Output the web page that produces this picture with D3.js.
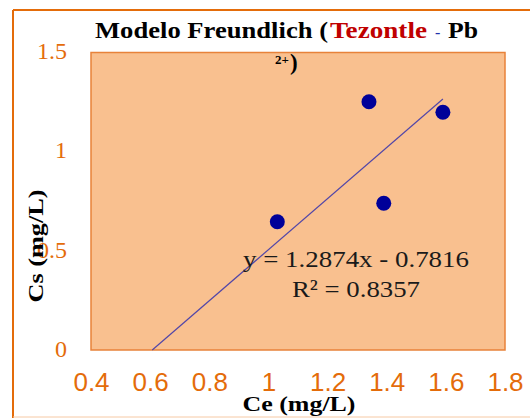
<!DOCTYPE html>
<html><head><meta charset="utf-8">
<script src="https://cdn.jsdelivr.net/npm/d3@7"></script>
<style>
html,body{margin:0;padding:0;background:#fff;}
svg{display:block;}
</style></head>
<body>
<svg id="chart" width="530" height="418"></svg>
<script>
const ceValues = [1.03, 1.34, 1.59, 1.39];
const csValues = [0.647, 1.252, 1.199, 0.740];
const xTicks = [0.4, 0.6, 0.8, 1, 1.2, 1.4, 1.6, 1.8];
const yTicks = [0, 0.5, 1, 1.5];
const slope = 1.2874, intercept = -0.7816;
const eqText = "y = 1.2874x - 0.7816";
const r2Text = "R\u00B2 = 0.8357";

const svg = d3.select("#chart");
const orange = "#E46C0A";
const serif = "'Liberation Serif','Times New Roman',serif";
const sans = "'Liberation Sans',Arial,sans-serif";

// outer frame
svg.append("line").attr("x1",13).attr("x2",530).attr("y1",10).attr("y2",10).attr("stroke",orange).attr("stroke-width",2);
svg.append("line").attr("x1",13).attr("x2",13).attr("y1",10).attr("y2",418).attr("stroke",orange).attr("stroke-width",2);
svg.append("line").attr("x1",13).attr("x2",530).attr("y1",417).attr("y2",417).attr("stroke","#F6C9A4").attr("stroke-width",1);

const L=91, R=505, T=52.5, B=350;
const x = d3.scaleLinear().domain([0.4,1.8]).range([L,R]);
const y = d3.scaleLinear().domain([0,1.5]).range([B,T]);

svg.append("rect").attr("x",L).attr("y",T).attr("width",R-L).attr("height",B-T)
  .attr("fill","#F9C08F").attr("stroke","#E8823A").attr("stroke-width",1.5);

// axes
const xAxis = svg.append("g").attr("transform",`translate(0,${B})`)
  .call(d3.axisBottom(x).tickValues(xTicks).tickSize(0).tickPadding(23).tickFormat(d3.format("")));
xAxis.select(".domain").remove();
xAxis.selectAll("text").attr("font-family",sans).attr("font-size",26).attr("fill",orange);

const yAxis = svg.append("g").attr("transform",`translate(${L},0)`)
  .call(d3.axisLeft(y).tickValues(yTicks).tickSize(0).tickPadding(24).tickFormat(d3.format("")));
yAxis.select(".domain").remove();
yAxis.selectAll("text").attr("font-family",serif).attr("font-size",24).attr("fill",orange).attr("dy","0.26em");

// trendline
const x0 = -intercept/slope, x1 = d3.max(ceValues);
svg.append("line")
  .attr("x1",x(x0)).attr("y1",y(slope*x0+intercept))
  .attr("x2",x(x1)).attr("y2",y(slope*x1+intercept))
  .attr("stroke","#5246A8").attr("stroke-width",1.2);

// points
svg.selectAll("circle.pt").data(ceValues).join("circle").attr("class","pt")
  .attr("cx",(d)=>x(d)).attr("cy",(d,i)=>y(csValues[i])).attr("r",7.5).attr("fill","#000099");

const fit = "spacingAndGlyphs";
// equation
svg.append("text").attr("x",356).attr("y",266.5).attr("text-anchor","middle")
  .attr("font-family",serif).attr("font-size",24).attr("fill","#1a1a1a")
  .attr("textLength",226).attr("lengthAdjust",fit).text(eqText);
svg.append("text").attr("x",356).attr("y",296.5).attr("text-anchor","middle")
  .attr("font-family",serif).attr("font-size",24).attr("fill","#1a1a1a")
  .attr("textLength",128).attr("lengthAdjust",fit).text(r2Text);

// axis titles
svg.append("text").attr("x",299).attr("y",411).attr("text-anchor","middle")
  .attr("font-family",serif).attr("font-weight","bold").attr("font-size",21).attr("fill","#000")
  .attr("textLength",113).attr("lengthAdjust",fit).text("Ce (mg/L)");
svg.append("text").attr("transform","translate(43,246) rotate(-90)").attr("text-anchor","middle")
  .attr("font-family",serif).attr("font-weight","bold").attr("font-size",21).attr("fill","#000")
  .attr("textLength",113).attr("lengthAdjust",fit).text("Cs (mg/L)");

// title
const tg = svg.append("g").attr("font-family",serif).attr("font-weight","bold").attr("font-size",23);
tg.append("text").attr("x",95).attr("y",38).attr("fill","#000").attr("textLength",233).attr("lengthAdjust",fit).text("Modelo Freundlich (");
tg.append("text").attr("x",330).attr("y",38).attr("fill","#C00000").attr("textLength",97).attr("lengthAdjust",fit).text("Tezontle");
tg.append("text").attr("x",435).attr("y",38).attr("fill","#2233AA").attr("font-weight","normal").attr("font-size",16).text("-");
tg.append("text").attr("x",448).attr("y",38).attr("fill","#000").attr("textLength",30).attr("lengthAdjust",fit).text("Pb");
tg.append("text").attr("x",275).attr("y",64).attr("fill","#000").attr("font-size",13).text("2+");
tg.append("text").attr("x",290).attr("y",70).attr("fill","#000").text(")");
</script>
</body></html>
